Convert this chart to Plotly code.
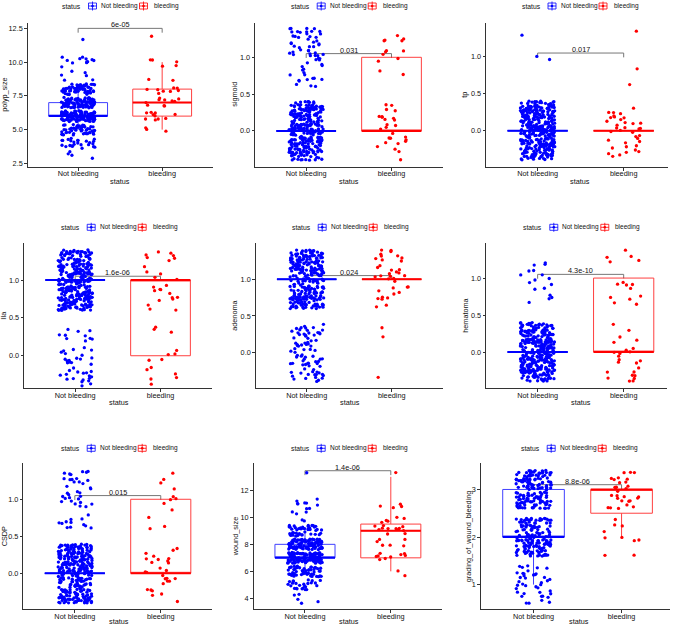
import numpy as np
import plotly.graph_objects as go

# ---------------- data ----------------
categories = ["Not bleeding", "bleeding"]
variables = ["polyp_size", "sigmoid", "tp", "IIa", "adenoma", "hematoma",
             "CSDP", "wound_size", "grading_of_wound_bleeding"]
p_labels = ["6e-05", "0.031", "0.017", "1.6e-06", "0.024", "4.3e-10",
            "0.015", "1.4e-06", "8.8e-06"]

# counts of observations at each discrete level
polyp_size_levels = [3, 4, 5, 6, 7, 8, 9, 10, 11, 12]
polyp_size_not_bleeding = [4, 25, 50, 112, 90, 60, 6, 12, 0, 1]
polyp_size_bleeding = [0, 0, 3, 10, 10, 8, 2, 5, 0, 1]

binary_levels = [0, 1]
sigmoid_not_bleeding = [298, 62]
sigmoid_bleeding = [26, 13]
tp_not_bleeding = [357, 3]
tp_bleeding = [36, 3]
IIa_not_bleeding = [45, 315]
IIa_bleeding = [14, 25]
adenoma_not_bleeding = [80, 280]
adenoma_bleeding = [3, 36]
hematoma_not_bleeding = [343, 17]
hematoma_bleeding = [24, 15]
CSDP_not_bleeding = [315, 45]
CSDP_bleeding = [27, 12]

wound_size_levels = [4, 5, 6, 7, 8, 9, 10, 11, 12, 13]
wound_size_not_bleeding = [5, 25, 55, 115, 100, 45, 5, 9, 0, 1]
wound_size_bleeding = [0, 0, 2, 9, 6, 12, 5, 4, 0, 1]

grading_levels = [1, 2, 3]
grading_not_bleeding = [40, 160, 160]
grading_bleeding = [0, 10, 29]

# tick labels
polyp_size_ticks = [2.5, 5.0, 7.5, 10.0, 12.5]
binary_ticks = [0.0, 0.5, 1.0]
wound_size_ticks = [4, 6, 8, 10, 12]
grading_ticks = [1, 2, 3]

# ---------------- layout / style ----------------
W, H = 676, 627
FONT = "Liberation Sans, Arial, sans-serif"
FS = 7.3
LFS = 6.5
COLORS = ["#0000FF", "#FF0000"]
TXT = "#111111"

series = [
    (polyp_size_levels, polyp_size_not_bleeding, polyp_size_bleeding, polyp_size_ticks, ".1f"),
    (binary_levels, sigmoid_not_bleeding, sigmoid_bleeding, binary_ticks, ".1f"),
    (binary_levels, tp_not_bleeding, tp_bleeding, binary_ticks, ".1f"),
    (binary_levels, IIa_not_bleeding, IIa_bleeding, binary_ticks, ".1f"),
    (binary_levels, adenoma_not_bleeding, adenoma_bleeding, binary_ticks, ".1f"),
    (binary_levels, hematoma_not_bleeding, hematoma_bleeding, binary_ticks, ".1f"),
    (binary_levels, CSDP_not_bleeding, CSDP_bleeding, binary_ticks, ".1f"),
    (wound_size_levels, wound_size_not_bleeding, wound_size_bleeding, wound_size_ticks, "d"),
    (grading_levels, grading_not_bleeding, grading_bleeding, grading_ticks, "d"),
]

# panel geometry in pixels: left, right, top, bottom
geom = [
    (27.7, 212.6, 22.7, 167), (255, 442.7, 22.7, 167), (486, 668, 22.7, 167),
    (24, 211.7, 243.3, 388.3), (255.7, 442.7, 243.3, 388.3), (486, 666.7, 243.3, 388.3),
    (23.3, 212.3, 463.3, 609.3), (253.5, 442.3, 463.3, 609.3), (480.7, 670, 463.3, 609.3),
]
xranges = [[0.4, 2.6], [0.4, 2.6], [0.4, 2.515],
           [0.4, 2.6], [0.4, 2.6], [0.4, 2.5],
           [0.4, 2.6], [0.4, 2.6], [0.4, 2.55]]
yranges = [[2.23, 12.92], [-0.49, 1.47], [-0.49, 1.46],
           [-0.43, 1.485], [-0.486, 1.49], [-0.49, 1.47],
           [-0.486, 1.486], [3.19, 14.0], [0.48, 3.55]]
bracket_y = [12.5, 1.05, 1.05, 1.05, 1.05, 1.05, 1.05, 13.45, 3.1]
ytitle_x = [5, 235, 465, 4, 235, 466, 4, 235, 468]
center_x = [120, 348.7, 579.5, 118.7, 349.7, 581.3, 118.7, 348.7, 578.7]
legend_y = [6, 227.3, 448.3]
xtitle_y = [181.7, 402.7, 621.5]

BOX_W = 0.7
JW, JH = 0.2, 0.4
G = 1.32471795724474602596
A1, A2 = 1 / G, 1 / G ** 2
B1, B2 = np.sqrt(2) - 1, np.sqrt(3) - 1


def px(x):
    return x / W


def py(y):
    return 1 - y / H


fig = go.Figure()
shapes = []
annotations = []

for k in range(9):
    levels, nb, bl, ticks, fmt = series[k]
    sfx = "" if k == 0 else str(k + 1)
    xr, yr = "x" + sfx, "y" + sfx
    groups = [np.repeat(levels, nb).astype(float), np.repeat(levels, bl).astype(float)]

    # boxes
    for gi, raw in enumerate(groups):
        pos = gi + 1
        q1, med, q3 = np.percentile(raw, [25, 50, 75])
        iqr = q3 - q1
        lf = raw[raw >= q1 - 1.5 * iqr].min()
        uf = raw[raw <= q3 + 1.5 * iqr].max()
        fig.add_trace(go.Box(
            x=[pos], q1=[q1], median=[med], q3=[q3], lowerfence=[lf], upperfence=[uf],
            width=BOX_W, whiskerwidth=0, fillcolor="white", boxpoints=False,
            line=dict(color=COLORS[gi], width=1), opacity=0.75,
            xaxis=xr, yaxis=yr, showlegend=False, hoverinfo="skip"))
        fig.add_trace(go.Scatter(
            x=[pos - BOX_W / 2, pos + BOX_W / 2], y=[med, med], mode="lines",
            line=dict(color=COLORS[gi], width=2), xaxis=xr, yaxis=yr,
            showlegend=False, hoverinfo="skip"))

    # jittered points (display jitter only, deterministic quadratic Weyl offsets)
    for gi, raw in enumerate(groups):
        pos = gi + 1
        idx = (np.arange(raw.size) + 397 * k + 173 * gi + 11).astype(np.float64)
        u = (0.5 + A1 * idx + B1 * idx * idx) % 1.0
        v = (0.5 + A2 * idx + B2 * idx * idx) % 1.0
        fig.add_trace(go.Scatter(
            x=pos + (2 * u - 1) * JW, y=raw + (2 * v - 1) * JH, mode="markers",
            marker=dict(color=COLORS[gi], size=3.3, line=dict(width=0)),
            xaxis=xr, yaxis=yr, showlegend=False, hoverinfo="skip"))

    l, r, t, b = geom[k]
    common = dict(showline=True, linecolor="#333333", linewidth=1, ticks="outside",
                  ticklen=2.5, tickwidth=1, tickcolor="#333333", showgrid=False,
                  zeroline=False, tickfont=dict(family=FONT, size=FS, color=TXT),
                  fixedrange=True)
    fig.layout["xaxis" + sfx] = dict(
        domain=[px(l), px(r)], range=xranges[k], anchor=yr,
        tickvals=[1, 2], ticktext=categories, ticklabelstandoff=-3, **common)
    fig.layout["yaxis" + sfx] = dict(
        domain=[py(b), py(t)], range=yranges[k], anchor=xr,
        tickvals=ticks, tickformat=fmt, **common)

    # comparison bracket + p value
    by = bracket_y[k]
    tip = 0.03 * (yranges[k][1] - yranges[k][0])
    shapes.append(dict(type="path", xref=xr, yref=yr,
                       path=f"M 1,{by - tip} L 1,{by} L 2,{by} L 2,{by - tip}",
                       line=dict(color="#777777", width=1), layer="below"))
    annotations.append(dict(x=1.5, y=by, xref=xr, yref=yr, text=p_labels[k],
                            showarrow=False, yanchor="bottom", yshift=-3,
                            font=dict(family=FONT, size=FS, color=TXT)))

    # axis titles
    row = k // 3
    cx = center_x[k]
    annotations.append(dict(x=px(ytitle_x[k]), y=py((t + b) / 2), xref="paper", yref="paper",
                            text=variables[k], textangle=-90, showarrow=False,
                            xanchor="center", yanchor="middle",
                            font=dict(family=FONT, size=FS, color=TXT)))
    annotations.append(dict(x=px(cx), y=py(xtitle_y[row]), xref="paper", yref="paper",
                            text="status", showarrow=False, xanchor="center", yanchor="middle",
                            font=dict(family=FONT, size=FS, color=TXT)))

    # legend (drawn per panel, as in the reference)
    ly = legend_y[row]
    annotations.append(dict(x=px(cx - 37), y=py(ly), xref="paper", yref="paper",
                            text="status", showarrow=False, xanchor="right", yanchor="middle",
                            font=dict(family=FONT, size=LFS + 0.3, color=TXT)))
    for gi, (icx, tx) in enumerate([(cx - 27.5, cx - 21), (cx + 23.5, cx + 32)]):
        c = COLORS[gi]
        shapes.append(dict(type="rect", xref="paper", yref="paper",
                           x0=px(icx - 4), x1=px(icx + 4), y0=py(ly + 3), y1=py(ly - 3),
                           line=dict(color=c, width=0.8), fillcolor="white"))
        shapes.append(dict(type="line", xref="paper", yref="paper",
                           x0=px(icx - 4), x1=px(icx + 4), y0=py(ly), y1=py(ly),
                           line=dict(color=c, width=0.8)))
        shapes.append(dict(type="line", xref="paper", yref="paper",
                           x0=px(icx), x1=px(icx), y0=py(ly - 4.5), y1=py(ly + 4.5),
                           line=dict(color=c, width=0.8)))
        shapes.append(dict(type="circle", xref="paper", yref="paper",
                           x0=px(icx - 1.3), x1=px(icx + 1.3), y0=py(ly + 1.3), y1=py(ly - 1.3),
                           line=dict(color=c, width=0), fillcolor=c))
        annotations.append(dict(x=px(tx), y=py(ly), xref="paper", yref="paper",
                                text=categories[gi], showarrow=False, xanchor="left",
                                yanchor="middle",
                                font=dict(family=FONT, size=LFS, color=TXT)))

fig.update_layout(width=W, height=H, margin=dict(l=0, r=0, t=0, b=0),
                  plot_bgcolor="white", paper_bgcolor="white", showlegend=False,
                  shapes=shapes, annotations=annotations)

fig.write_html("out.html")
